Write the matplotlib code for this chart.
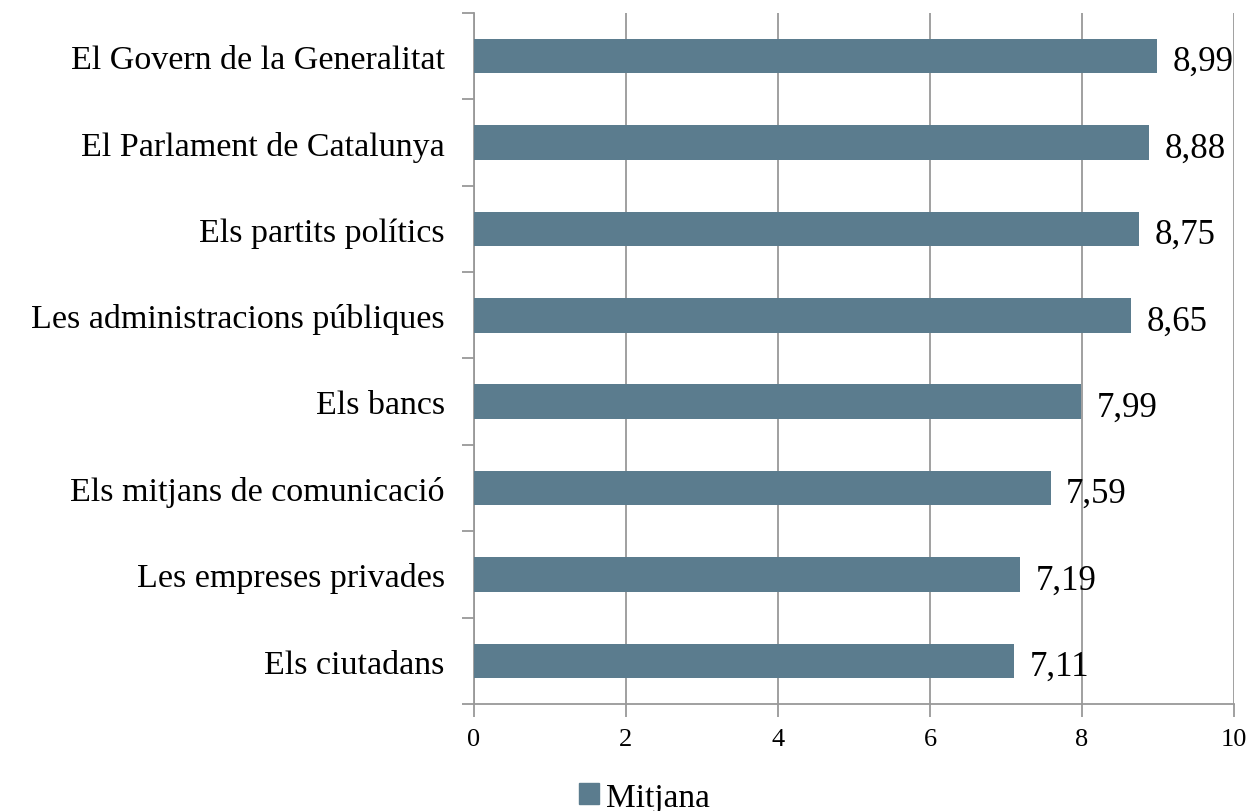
import numpy as np
import matplotlib.pyplot as plt
from matplotlib.patches import Patch

# data
categories = ["El Govern de la Generalitat", "El Parlament de Catalunya", "Els partits polítics",
              "Les administracions públiques", "Els bancs", "Els mitjans de comunicació",
              "Les empreses privades", "Els ciutadans"]
values = [8.99, 8.88, 8.75, 8.65, 7.99, 7.59, 7.19, 7.11]
labels = ["8,99", "8,88", "8,75", "8,65", "7,99", "7,59", "7,19", "7,11"]
xticks = [0, 2, 4, 6, 8, 10]

plt.rcParams['font.family'] = ['Liberation Serif', 'DejaVu Serif']
bar_color = "#5B7C8E"
grid_color = "#999999"

fig = plt.figure(figsize=(12.5, 8.12), dpi=100)
ax = fig.add_axes([0.3792, 0.1318, 0.608, 0.851])

n = len(categories)
y = np.arange(n)[::-1]
ax.barh(y, values, height=0.4, color=bar_color, zorder=3)

for yi, v, lab in zip(y, values, labels):
    ax.annotate(lab, (v, yi), xytext=(11, -4), textcoords="offset points",
                va="center", ha="left", fontsize=25, zorder=4)

ax.set_xlim(0, 10)
ax.set_ylim(-0.5, n - 0.5)
ax.set_xticks(xticks)
ax.set_xticklabels([str(t) for t in xticks], fontsize=19)
ax.set_yticks(y)
ax.set_yticklabels(categories, fontsize=24.5)
ax.set_yticks(np.arange(-0.5, n, 1), minor=True)
ax.tick_params(axis="y", which="major", length=0, pad=21)
ax.tick_params(axis="y", which="minor", length=9, color=grid_color, width=1.3)
ax.tick_params(axis="x", length=9, color=grid_color, width=1.3, pad=8)

ax.xaxis.grid(True, color=grid_color, linewidth=1.3, zorder=0)
for s in ["top", "right"]:
    ax.spines[s].set_visible(False)
for s in ["left", "bottom"]:
    ax.spines[s].set_color(grid_color)
    ax.spines[s].set_linewidth(1.3)

ax.legend(handles=[Patch(color=bar_color, label="Mitjana")], loc="center",
          bbox_to_anchor=(0.224, -0.135), frameon=False, fontsize=24,
          handlelength=0.6, handleheight=0.6, handletextpad=0.2, borderpad=0)

fig.savefig("out.png", dpi=100)
